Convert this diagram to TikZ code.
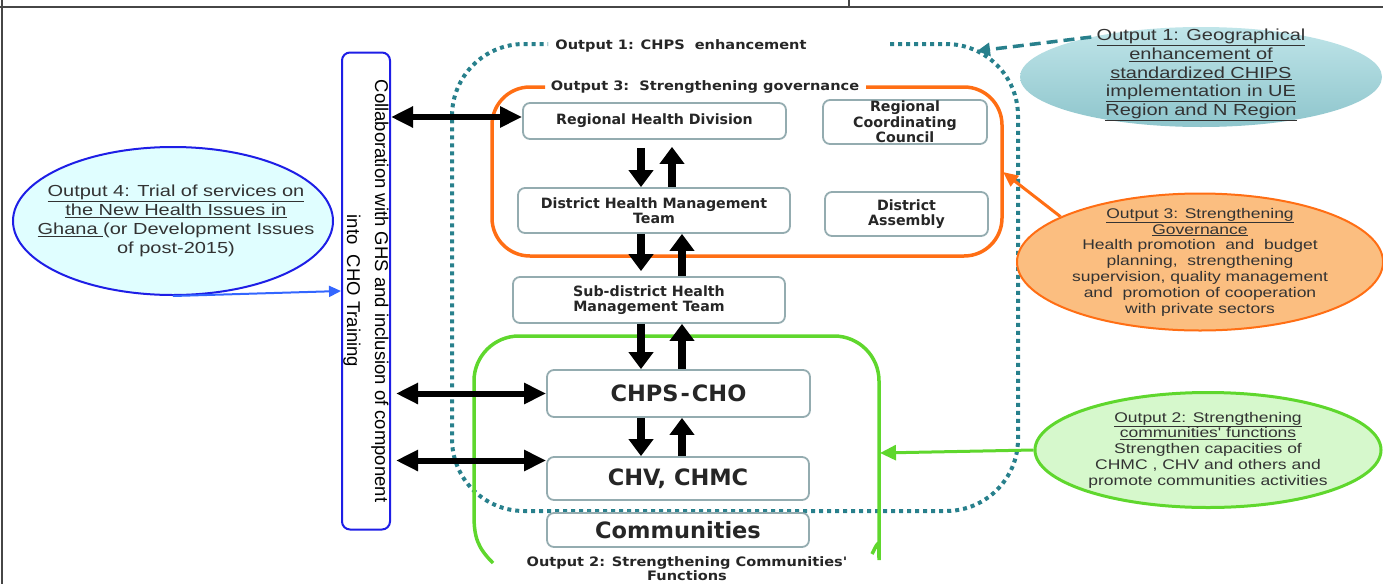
\documentclass[tikz,border=0pt]{standalone}
\usepackage{fontspec}
\setmainfont{Liberation Sans}
\newfontfamily\ellfont{Liberation Sans}[FakeStretch=1.25]
\newfontfamily\boxfont{DejaVu Sans}
\newfontfamily\labfont{DejaVu Sans}[FakeStretch=1.12]
\usetikzlibrary{arrows.meta,shapes.geometric,calc}
\definecolor{dotc}{RGB}{40,128,140}
\definecolor{orc}{RGB}{255,110,20}
\definecolor{grc}{RGB}{95,215,45}
\definecolor{bluc}{RGB}{30,30,230}
\definecolor{barrow}{RGB}{51,102,255}
\definecolor{boxc}{RGB}{148,172,176}
\definecolor{eonetop}{RGB}{192,229,233}
\definecolor{eonebot}{RGB}{142,197,204}
\definecolor{ethree}{RGB}{251,190,128}
\definecolor{etwo}{RGB}{214,248,204}
\definecolor{efour}{RGB}{224,254,255}
\definecolor{framec}{RGB}{70,70,70}
\tikzset{
  box/.style={draw=boxc, line width=1.8pt, rounded corners=7pt, fill=white, text=black!85,
    align=center, inner sep=0pt, font=\boxfont\bfseries\fontsize{14.2}{15.5}\selectfont},
  bigbox/.style={box, font=\boxfont\bfseries\fontsize{22.5}{26}\selectfont},
  lab/.style={font=\labfont\bfseries\fontsize{13}{14}\selectfont, text=black!85, inner sep=1pt, align=center},
  ellbase/.style={ellipse, inner sep=0pt},
  etext/.style={font=\ellfont\fontsize{14}{15.8}\selectfont, text=black!80, align=center, inner sep=0pt},
  etextbig/.style={font=\ellfont\fontsize{16}{18.8}\selectfont, text=black!80, align=center, inner sep=0pt},
  varrow/.style={line width=8pt, -{Triangle[length=17pt,width=24pt]}},
  hdbl/.style={line width=6pt, {Triangle[length=22pt,width=20pt]}-{Triangle[length=22pt,width=20pt]}},
  frameline/.style={draw=framec, line width=1.6pt},
}
\begin{document}
\begin{tikzpicture}[x=1pt,y=-1pt]
\useasboundingbox (0,0) rectangle (1383,584);
% frame lines
\draw[frameline] (0,7) -- (1383,7);
\draw[frameline] (2,0) -- (2,584);
\draw[frameline] (849,0) -- (849,7);

% output 1 dotted region
\draw[dotc, line width=4pt, dash pattern=on 4pt off 4pt, rounded corners=72pt]
  (890,44) -- (1018,44) -- (1018,511) -- (452,511) -- (452,44) -- (548,44);
% output 3 orange region
\draw[orc, line width=3.5pt, rounded corners=38pt]
  (866,87) -- (1002,87) -- (1002,256) -- (492,256) -- (492,87) -- (545,87);
% output 2 green region
\draw[grc, line width=3.5pt]
  (493,563) .. controls (478,548) and (474,538) .. (474,515)
  [rounded corners=45pt] -- (474,336) -- (879,336) -- (879,515)
  [sharp corners] .. controls (879,535) and (877,545) .. (872,554);

% labels
\node[lab] (o1lab) at (681,46) {Output 1: CHPS\ \ enhancement};
\node[lab] (o3lab) at (705,87) {Output 3:\ \ Strengthening governance};
\node[lab] (o2lab) at (687,569) {Output 2: Strengthening Communities'\\Functions};

% boxes
\node[box, minimum width=263pt, minimum height=36pt] (rhd) at (654.5,121) {Regional Health Division};
\node[box, minimum width=164pt, minimum height=44pt] (rcc) at (905,122) {Regional\\Coordinating\\Council};
\node[box, minimum width=272pt, minimum height=45pt] (dhmt) at (654,210.5) {District Health Management\\Team};
\node[box, minimum width=163pt, minimum height=44pt] (da) at (906.5,214) {District\\Assembly};
\node[box, minimum width=272pt, minimum height=46pt] (sub) at (649,300) {Sub-district Health\\Management Team};
\node[bigbox, minimum width=263pt, minimum height=47pt] (chps) at (678.5,393.5) {CHPS\kern2pt-\kern2pt CHO};
\node[bigbox, minimum width=262pt, minimum height=43pt] (chv) at (678,478.5) {CHV, CHMC};
\node[bigbox, minimum width=262pt, minimum height=34pt] (comm) at (678,530) {Communities};

% collaboration box
\node[draw=bluc, line width=2pt, rounded corners=8pt, rotate=-90, minimum width=477pt,
  minimum height=48pt, inner sep=0pt, align=center, fill=white,
  font=\fontsize{18.5}{28}\selectfont] (collab) at (366,291)
  {Collaboration with GHS and inclusion of component\\into\ \ CHO Training};

% vertical arrows
\coordinate (xa) at (641,0);
\coordinate (xb) at (672,0);
\coordinate (xc) at (682,0);
\draw[varrow] ([yshift=-8pt]rhd.south -| xa) -- (dhmt.north -| xa);
\draw[varrow] (dhmt.north -| xb) -- ([yshift=-7pt]rhd.south -| xb);
\draw[varrow] (dhmt.south -| xa) -- ([yshift=5pt]sub.north -| xa);
\draw[varrow] (sub.north -| xc) -- (dhmt.south -| xc);
\draw[varrow] (sub.south -| xa) -- (chps.north -| xa);
\draw[varrow] (chps.north -| xc) -- (sub.south -| xc);
\draw[varrow] (chps.south -| xa) -- (chv.north -| xa);
\draw[varrow] (chv.north -| xc) -- (chps.south -| xc);

% horizontal double arrows
\draw[hdbl] ([yshift=4pt]collab.north |- rhd.west) -- ([yshift=4pt]rhd.west);
\draw[hdbl] ([xshift=5pt]collab.north |- chps.west) -- (chps.west);
\draw[hdbl] ([xshift=5pt,yshift=18pt]collab.north |- chv.west) -- ([yshift=18pt]chv.west);

% ellipses
\node[ellbase, draw=bluc, line width=2pt, fill=efour, minimum width=320pt, minimum height=148pt] (ell4) at (173,221) {};
\node[etextbig] (t4) at ([xshift=3pt]ell4.center)
  {\underline{Output 4: Trial of services on}\\\underline{the New Health Issues in}\\\underline{Ghana\ }(or Development Issues\\of post-2015)};

\node[ellbase, top color=eonetop, bottom color=eonebot, minimum width=362pt, minimum height=100pt] (ell1) at (1201,77) {};
\node[etextbig] (t1) at ([yshift=2pt]ell1.center)
  {\underline{Output 1: Geographical}\\\underline{enhancement of}\\\underline{standardized CHIPS}\\\underline{implementation in UE}\\\underline{Region and N Region}};

\node[ellbase, draw=orc, line width=2pt, fill=ethree, minimum width=366pt, minimum height=137pt] (ell3) at (1200,262) {};
\node[etext] (t3) at (ell3.center)
  {\underline{Output 3: Strengthening}\\\underline{Governance}\\Health promotion\ \ and\ \ budget\\planning,\ \ strengthening\\supervision, quality management\\and\ \ promotion of cooperation\\with private sectors};

\node[ellbase, draw=grc, line width=3pt, fill=etwo, minimum width=346pt, minimum height=115pt] (ell2) at (1208,450) {};
\node[etext] (t2) at (ell2.center)
  {\underline{Output 2: Strengthening}\\\underline{communities' functions}\\Strengthen capacities of\\CHMC , CHV and others and\\promote communities activities};

% connectors from ellipses
\coordinate (dotTR) at (977,51);
\coordinate (orgR) at (1003,172);
\coordinate (grnR) at (880,453);
\draw[dotc, line width=3.5pt, dash pattern=on 11pt off 6pt, -{Triangle[length=13pt,width=13pt]}] (ell1.160) -- (dotTR);
\draw[orc, line width=3pt, -{Triangle[length=15pt,width=13pt]}] (ell3.162) -- (orgR);
\draw[grc, line width=3pt, -{Triangle[length=16pt,width=15pt]}] (ell2.west) -- (grnR);
\draw[barrow, line width=2pt, -{Triangle[length=12pt,width=11pt]}] (ell4.south) -- (collab.south);
\end{tikzpicture}
\end{document}
